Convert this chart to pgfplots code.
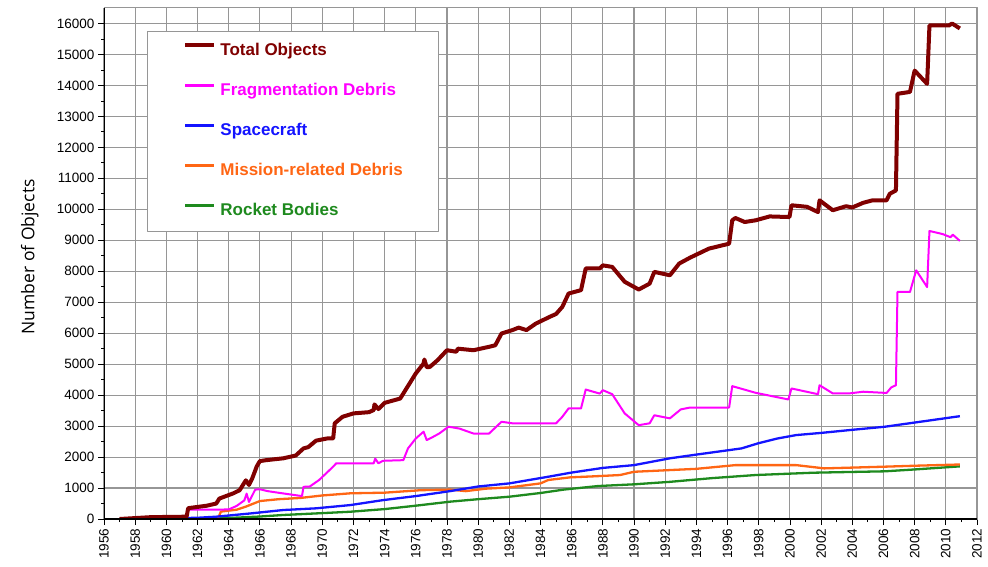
\documentclass[border=0pt]{standalone}
\usepackage{pgfplots}
\pgfplotsset{compat=1.18}
\usepackage{fontspec}
\setmainfont{Liberation Sans}
\newfontfamily\labelfont{Open Sans}
\definecolor{cTotal}{RGB}{128,0,0}
\definecolor{cFrag}{RGB}{255,0,255}
\definecolor{cSpace}{RGB}{20,20,255}
\definecolor{cMiss}{RGB}{255,102,20}
\definecolor{cRock}{RGB}{30,138,30}
\definecolor{gridgray}{RGB}{150,150,150}
\begin{document}
\begin{tikzpicture}
\begin{axis}[
 scale only axis, width=873pt, height=511pt,
 xmin=1956, xmax=2012, ymin=0, ymax=16500,
 xtick={1956,1958,...,2012}, ytick={0,1000,...,16000},
 scaled y ticks=false, scaled x ticks=false,
 minor x tick num=1, minor y tick num=1,
 tick pos=left,
 tick align=outside, major tick length=6pt, minor tick length=3pt,
 tick style={black, line width=0.8pt},
 grid=major, major grid style={draw=gridgray, line width=1.1pt},
 axis line style={draw=gridgray, line width=1pt},
 /pgf/number format/1000 sep={},
 /pgf/number format/assume math mode=true,
 ticklabel style={font=\fontsize{13.5}{15}\selectfont, text=black},
 xticklabel style={rotate=90, anchor=east},
 ylabel={Number of Objects},
 ylabel style={font=\labelfont\fontsize{17.5}{20}\selectfont, at={(axis description cs:-0.085,0.513)}, anchor=center},
 legend style={at={(axis description cs:0.0493,0.955)}, anchor=north west,
   draw=gridgray, line width=0.8pt, fill=white, inner xsep=36pt, inner ysep=12pt,
   row sep=24pt, font=\fontsize{17}{20}\selectfont\bfseries,
   nodes={inner sep=0pt, text height=12pt, text depth=4pt}},
 legend cell align=left,
 reverse legend,
 legend image code/.code={\draw[#1, line cap=butt] (0pt,6pt) -- (29pt,6pt); \path (33pt,0pt);},
 line join=round,
]
\addplot[color=cRock, line width=2.3pt, legend image post style={line width=2.8pt}] coordinates {
(1957,0) (1962,10) (1964.3,40) (1966,80) (1967.5,130) (1970,190) (1971.8,235)
(1974,320) (1976,430) (1978.2,560) (1980,640) (1982,720) (1984,840) (1985.5,950)
(1987.7,1065) (1990,1120) (1992.3,1200) (1995,1320) (1997.8,1420) (2001.5,1495)
(2003,1510) (2006.1,1540) (2008,1600) (2010.9,1700)};
\addlegendentry{\textcolor{cRock}{Rocket Bodies}}
\addplot[color=cMiss, line width=2.3pt, legend image post style={line width=2.8pt}] coordinates {
(1957,0) (1963.3,0) (1963.5,240) (1964.5,300) (1965.1,400) (1966,580) (1967.2,640)
(1968.6,680) (1970,760) (1971.8,830) (1974,850) (1976.3,930) (1978.2,950) (1979.2,900)
(1980.5,980) (1982,1020) (1984,1150) (1984.5,1260) (1985.9,1345) (1987.5,1380)
(1989.1,1420) (1990,1525) (1992.3,1580) (1994,1620) (1996.5,1740) (1999.2,1740)
(2000.4,1740) (2002.2,1635) (2004,1660) (2006.1,1690) (2008,1720) (2010.9,1760)};
\addlegendentry{\textcolor{cMiss}{Mission-related Debris}}
\addplot[color=cSpace, line width=2.3pt, legend image post style={line width=2.8pt}] coordinates {
(1957,0) (1958,5) (1960,20) (1962,40) (1963.2,75) (1965.4,180) (1967.5,290)
(1969.6,345) (1971.8,450) (1973.9,610) (1976,740) (1978.2,900) (1980,1050)
(1982,1150) (1984.5,1365) (1986,1500) (1988,1650) (1990,1740) (1992.3,1960)
(1994,2080) (1996.9,2280) (1998,2450) (1999.2,2600) (2000.4,2710) (2002,2780)
(2004,2880) (2006.1,2980) (2008.5,3150) (2010.9,3320)};
\addlegendentry{\textcolor{cSpace}{Spacecraft}}
\addplot[color=cFrag, line width=2pt, legend image post style={line width=2.8pt}] coordinates {
(1957,0) (1961.3,0) (1961.4,300) (1963,300) (1964,310) (1964.5,420) (1965,600)
(1965.15,820) (1965.3,550) (1965.7,950) (1966,960) (1966.5,900) (1967.3,840)
(1968.7,740) (1968.8,1040) (1969.2,1050) (1969.8,1260) (1970.7,1690) (1970.9,1800)
(1972,1800) (1973.3,1800) (1973.4,1950) (1973.6,1800) (1973.9,1880) (1975.2,1900)
(1975.5,2280) (1976,2600) (1976.5,2820) (1976.7,2550) (1977.1,2650) (1977.5,2760)
(1978.1,2980) (1978.8,2920) (1979.7,2760) (1980.7,2760) (1981.5,3140) (1982.2,3090)
(1983.7,3090) (1985,3090) (1985.4,3300) (1985.8,3570) (1986.6,3570) (1986.9,4180)
(1987.8,4050) (1988,4160) (1988.6,4030) (1989.4,3410) (1990.3,3030) (1991,3090)
(1991.3,3350) (1992.3,3250) (1993,3540) (1993.6,3600) (1996.1,3600) (1996.3,4290)
(1997.8,4075) (1999.9,3860) (2000.1,4215) (2001.8,4030) (2001.9,4320) (2002.75,4055)
(2003.8,4055) (2004.7,4110) (2006.2,4070) (2006.5,4250) (2006.8,4320) (2006.9,7330)
(2007.7,7330) (2008.1,8030) (2008.8,7490) (2008.95,9300) (2009.8,9200) (2010.3,9100)
(2010.45,9180) (2010.9,8980)};
\addlegendentry{\textcolor{cFrag}{Fragmentation Debris}}
\addplot[color=cTotal, line width=4pt] coordinates {
(1957,0) (1959,60) (1961.3,75) (1961.4,350) (1962,390) (1962.6,430) (1963.2,500)
(1963.4,660) (1964.3,830) (1964.7,930) (1965.1,1250) (1965.3,1100) (1965.5,1300)
(1965.8,1700) (1966,1870) (1966.4,1900) (1967.5,1960) (1968.3,2050) (1968.8,2280)
(1969.1,2320) (1969.6,2530) (1970.3,2600) (1970.7,2600) (1970.8,3090) (1971.3,3300)
(1972,3410) (1973,3450) (1973.3,3520) (1973.35,3700) (1973.6,3550) (1974,3750)
(1975,3890) (1975.6,4375) (1976,4700) (1976.5,5020) (1976.55,5150) (1976.7,4900)
(1976.9,4910) (1977.4,5130) (1978,5450) (1978.6,5400) (1978.7,5500) (1979.7,5450)
(1980.7,5560) (1981.1,5610) (1981.5,5990) (1982.2,6100) (1982.6,6180) (1983.1,6100)
(1983.7,6310) (1984.6,6530) (1985,6620) (1985.4,6850) (1985.8,7280) (1986.6,7390)
(1986.9,8090) (1987.8,8090) (1988,8190) (1988.6,8140) (1989,7900) (1989.4,7660)
(1990.3,7410) (1991,7600) (1991.3,7980) (1992.3,7870) (1992.9,8250) (1993.6,8440)
(1994.8,8730) (1996.1,8890) (1996.3,9645) (1996.5,9720) (1997.1,9590) (1997.8,9645)
(1998.7,9770) (1999.97,9750) (2000.1,10130) (2001.1,10080) (2001.8,9910) (2001.9,10290)
(2002.75,9970) (2003.6,10100) (2004,10060) (2004.7,10210) (2005.3,10290) (2006.2,10290)
(2006.4,10500) (2006.8,10610) (2006.9,13730) (2007.7,13790) (2008,14480) (2008.8,14050)
(2008.95,15935) (2010.2,15935) (2010.4,16000) (2010.9,15840)};
\addlegendentry{\textcolor{cTotal}{Total Objects}}
\draw[black, line width=1.2pt] (rel axis cs:0,1) -- (rel axis cs:0,0) -- (rel axis cs:1,0);
\end{axis}
\path (current axis.south west) ++(-104pt,-47pt) coordinate (bbA);
\path (current axis.north east) ++(11pt,8pt) coordinate (bbB);
\path (bbA) rectangle (bbB);
\end{tikzpicture}
\end{document}
